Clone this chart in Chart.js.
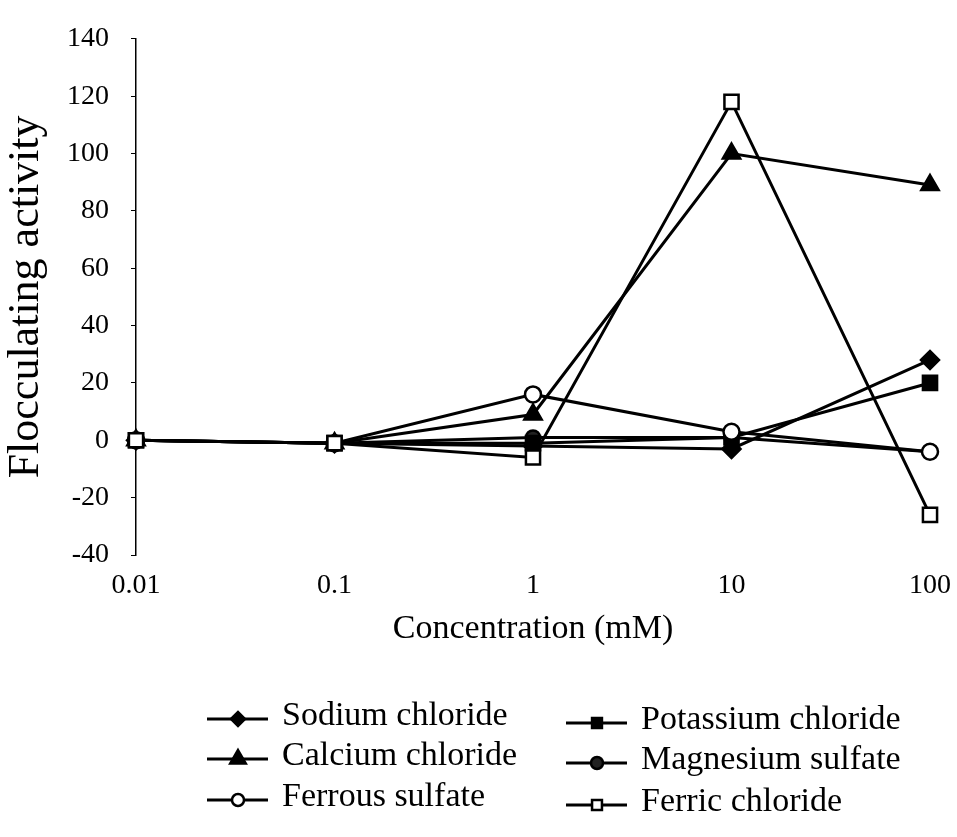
<!DOCTYPE html>
<html>
<head>
<meta charset="utf-8">
<script src="https://cdn.jsdelivr.net/npm/chart.js@4/dist/chart.umd.min.js"></script>
<style>
  html, body { margin: 0; padding: 0; background: #fff; }
  #wrap { width: 957px; height: 837px; }
</style>
</head>
<body>
<div id="wrap"><canvas id="c" width="957" height="837"></canvas></div>
<script>
// Concentrations (mM) and their axis labels
const concentrations = [0.01, 0.1, 1, 10, 100];
const concentrationLabels = ['0.01', '0.1', '1', '10', '100'];
const activityTicks = [-40, -20, 0, 20, 40, 60, 80, 100, 120, 140];

// Flocculating activity for each salt
const sodiumChloride    = [0, -1, -2, -3, 28];
const potassiumChloride = [0, -1, -1, 1, 20];
const calciumChloride   = [0, -1, 9, 100, 89];
const magnesiumSulfate  = [0, -1, 1, 1, -4];
const ferrousSulfate    = [0, -1, 16, 3, -4];
const ferricChloride    = [0, -1, -6, 118, -26];

const serif = '"Liberation Serif", "Times New Roman", serif';

function series(label, values, pointStyle, fill, radius, legendRadius, order) {
  return {
    label,
    data: concentrations.map((x, i) => ({ x, y: values[i] })),
    borderColor: '#000',
    borderWidth: 3,
    pointStyle,
    pointRadius: radius,
    pointBackgroundColor: fill,
    pointBorderColor: '#000',
    pointBorderWidth: 2.5,
    legendRadius,
    order,
    clip: false,
    tension: 0
  };
}

// Legend placement: two columns, three rows
const legendSlots = [
  { x: 207, y: 719 }, { x: 566, y: 723 },
  { x: 207, y: 759 }, { x: 566, y: 763 },
  { x: 207, y: 800 }, { x: 566, y: 805 }
];

const twoColumnLegend = {
  id: 'twoColumnLegend',
  afterDraw(chart) {
    const ctx = chart.ctx;
    ctx.save();
    chart.data.datasets.forEach((ds, i) => {
      const s = legendSlots[i];
      ctx.strokeStyle = '#000';
      ctx.lineWidth = 3;
      ctx.beginPath();
      ctx.moveTo(s.x, s.y);
      ctx.lineTo(s.x + 61, s.y);
      ctx.stroke();
      ctx.fillStyle = ds.pointBackgroundColor;
      ctx.strokeStyle = '#000';
      ctx.lineWidth = 2.5;
      Chart.helpers.drawPoint(ctx, {
        pointStyle: ds.pointStyle, rotation: 0, borderWidth: 2.5, radius: ds.legendRadius
      }, s.x + 31, s.y);
      ctx.fillStyle = '#000';
      ctx.font = '34px ' + serif;
      ctx.textBaseline = 'middle';
      ctx.textAlign = 'left';
      ctx.fillText(ds.label, s.x + 75, s.y - 3);
    });
    ctx.restore();
  }
};

new Chart(document.getElementById('c'), {
  type: 'line',
  data: {
    datasets: [
      series('Sodium chloride', sodiumChloride, 'rectRot', '#000', 9, 7, 1),
      series('Potassium chloride', potassiumChloride, 'rect', '#000', 10, 7, 1),
      series('Calcium chloride', calciumChloride, 'triangle', '#000', 10, 9, 1),
      series('Magnesium sulfate', magnesiumSulfate, 'circle', '#222', 7, 6, 1),
      series('Ferrous sulfate', ferrousSulfate, 'circle', '#fff', 8, 6, 0),
      series('Ferric chloride', ferricChloride, 'rect', '#fff', 10, 7, -1)
    ]
  },
  options: {
    responsive: false,
    animation: false,
    layout: { padding: { top: 37, right: 23, bottom: 184, left: 0 } },
    plugins: { legend: { display: false }, tooltip: { enabled: false } },
    scales: {
      x: {
        type: 'logarithmic',
        min: 0.01,
        max: 100,
        afterBuildTicks(scale) {
          scale.ticks = concentrations.map(v => ({ value: v }));
        },
        afterFit(scale) { scale.height = 98; },
        border: { display: false },
        grid: { display: false },
        ticks: {
          color: '#000',
          font: { family: serif, size: 28 },
          padding: 6,
          maxRotation: 0,
          autoSkip: false,
          callback: (v) => concentrationLabels[concentrations.indexOf(v)]
        },
        title: {
          display: true,
          text: 'Concentration (mM)',
          color: '#000',
          font: { family: serif, size: 34 },
          padding: { top: 12 }
        }
      },
      y: {
        min: -40,
        max: 140,
        afterBuildTicks(scale) {
          scale.ticks = activityTicks.map(v => ({ value: v }));
        },
        afterFit(scale) { scale.width = 136; },
        border: { display: true, color: '#000', width: 1.5 },
        grid: { drawOnChartArea: false, drawTicks: true, tickLength: 5, color: '#000' },
        ticks: {
          color: '#000',
          font: { family: serif, size: 28 },
          padding: 22
        },
        title: {
          display: true,
          text: 'Flocculating activity',
          color: '#000',
          font: { family: serif, size: 44 },
          padding: { top: 0, bottom: 0 }
        }
      }
    }
  },
  plugins: [twoColumnLegend]
});
</script>
</body>
</html>
